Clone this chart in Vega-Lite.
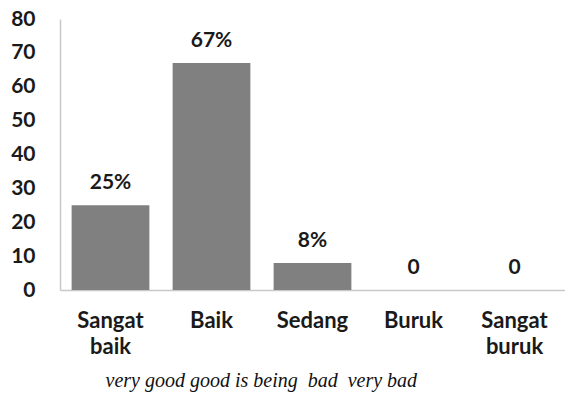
{
  "$schema": "https://vega.github.io/schema/vega-lite/v6.json",
  "width": 505,
  "height": 271,
  "autosize": "none",
  "padding": {"left": 60, "top": 19, "right": 0, "bottom": 111},
  "background": "white",
  "data": {"values": [
    {"kategori": "Sangat baik", "nilai": 25, "label": "25%"},
    {"kategori": "Baik", "nilai": 67, "label": "67%"},
    {"kategori": "Sedang", "nilai": 8, "label": "8%"},
    {"kategori": "Buruk", "nilai": 0, "label": "0"},
    {"kategori": "Sangat buruk", "nilai": 0, "label": "0"}
  ]},
  "config": {"view": {"stroke": null}},
  "encoding": {
    "x": {"field": "kategori", "type": "nominal", "sort": null,
      "scale": {"paddingInner": 0.23, "paddingOuter": 0.115},
      "axis": {"title": "very good good is being \u00a0bad \u00a0very bad", "labelAngle": 0,
        "labelExpr": "split(datum.label, ' ')", "labelFont": "Lato", "labelFontWeight": "bold",
        "labelFontSize": 22, "labelColor": "#1a1a1a", "labelLineHeight": 26, "labelPadding": 20,
        "labelBaseline": "top",
        "ticks": false, "domainColor": "#c8c8c8", "domainWidth": 1.5,
        "titleFont": "Liberation Serif", "titleFontStyle": "italic", "titleFontWeight": "normal",
        "titleFontSize": 20, "titleColor": "#111", "titleAnchor": "start", "titleX": 45, "titleY": 96,
        "titleBaseline": "alphabetic"}},
    "y": {"field": "nilai", "type": "quantitative", "scale": {"domain": [0, 80], "nice": false},
      "axis": {"title": null, "values": [0,10,20,30,40,50,60,70,80], "grid": false, "ticks": false,
        "labelFont": "Lato", "labelFontWeight": "bold", "labelFontSize": 21, "labelColor": "#1a1a1a",
        "labelPadding": 25, "domainColor": "#c8c8c8", "domainWidth": 1.5}}
  },
  "layer": [
    {"mark": {"type": "bar", "color": "#808080"}},
    {"mark": {"type": "text", "font": "Lato", "fontWeight": "bold", "fontSize": 21, "color": "#1a1a1a",
      "baseline": "middle", "dy": -22},
     "encoding": {"text": {"field": "label"}}}
  ]
}
